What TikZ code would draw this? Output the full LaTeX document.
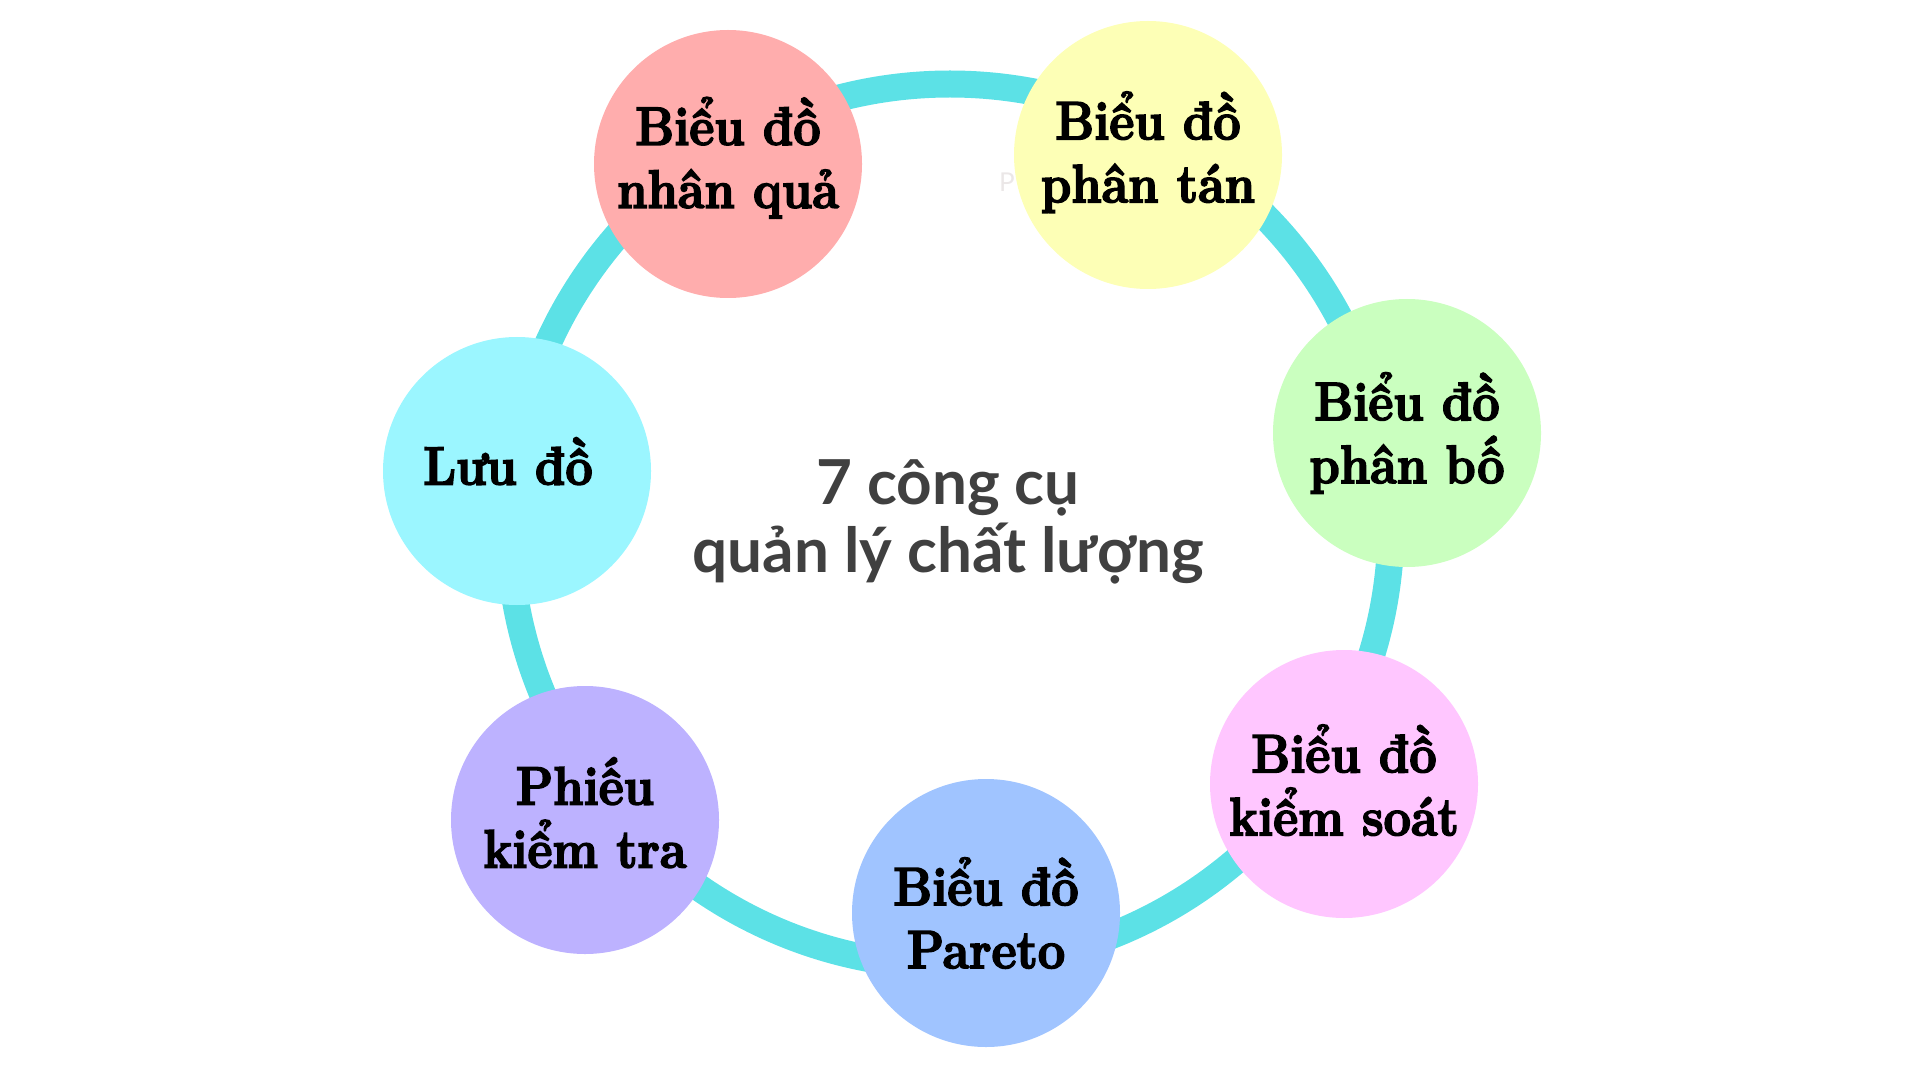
\documentclass[tikz,border=0pt]{standalone}
\usepackage{fontspec}
\setmainfont{Latin Modern Roman}
\newfontfamily\labfont{Latin Modern Roman}[FakeStretch=0.9, BoldFeatures={FakeBold=3}]
\newfontfamily\ctrfont{Lato}
\definecolor{ringc}{HTML}{5CE1E6}
\definecolor{cpink}{HTML}{FFADAD}
\definecolor{cyellow}{HTML}{FDFFB6}
\definecolor{cgreen}{HTML}{CAFFBF}
\definecolor{cmagenta}{HTML}{FFC6FF}
\definecolor{cblue}{HTML}{A0C4FF}
\definecolor{cpurple}{HTML}{BDB2FF}
\definecolor{ccyan}{HTML}{9BF6FF}
\definecolor{ctrc}{HTML}{404040}
\definecolor{wmc}{HTML}{EBE7E7}
\begin{document}
\begin{tikzpicture}[x=0.5pt,y=-0.5pt,
  ring/.style={draw=ringc, line width=13.5pt},
  tool/.style={circle, minimum size=134pt, inner sep=0pt, align=center, text=black,
    font=\labfont\bfseries\fontsize{27}{31.5}\selectfont},
  title/.style={align=center, text=ctrc, font=\ctrfont\bfseries\fontsize{31}{34}\selectfont},
  ]
\useasboundingbox (0,0) rectangle (1920,1080);
\coordinate (c) at (950,525);
\draw[ring] (c) circle [radius=441];
\node[text=wmc, font=\ctrfont\fontsize{13}{13}\selectfont] (wm) at (1007,182) {P};
\node[tool, fill=cpink, text depth=11.5pt] (n1) at (728,164) {Biểu đồ\\nhân quả};
\node[tool, fill=cyellow, text depth=8pt]  (n2) at (1148,155) {Biểu đồ\\phân tán};
\node[tool, fill=cgreen]   (n3) at (1407,433) {Biểu đồ\\phân bố};
\node[tool, fill=cmagenta, text depth=4pt] (n4) at (1344,784) {Biểu đồ\\kiểm soát};
\node[tool, fill=cblue]    (n5) at (986,913) {Biểu đồ\\Pareto};
\node[tool, fill=cpurple, text depth=7.5pt]  (n6) at (585,820) {Phiếu\\kiểm tra};
\node[tool, fill=ccyan, text depth=10pt] (n7) at (517,471) {Lưu đồ\hspace*{9pt}};
\node[title] (t) at (948,522) {7 công cụ\\quản lý chất lượng};
\end{tikzpicture}
\end{document}
